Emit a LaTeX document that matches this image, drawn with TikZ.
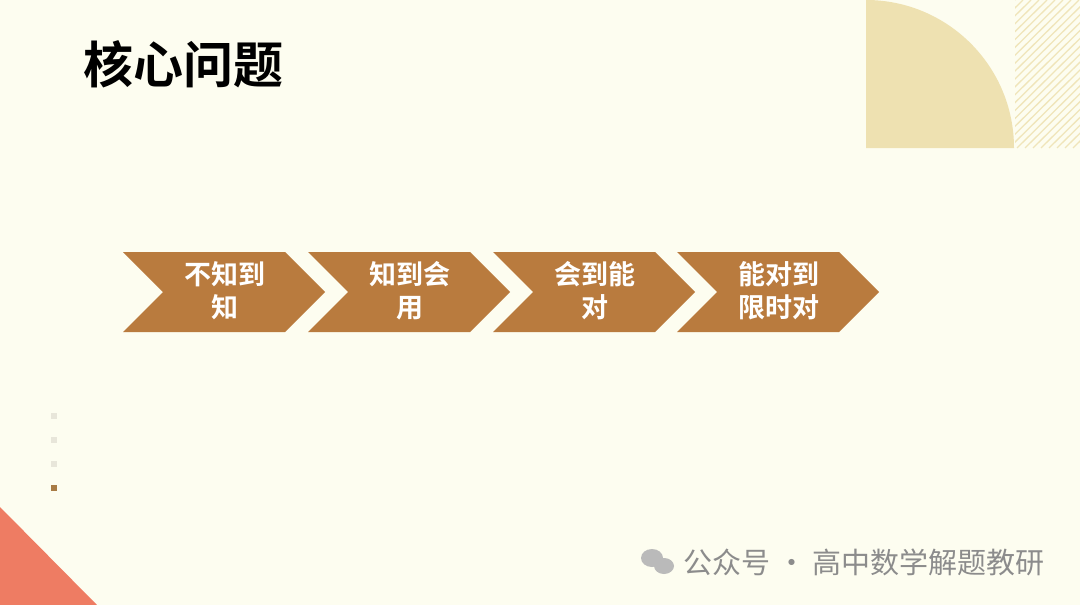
\documentclass[tikz,border=0pt]{standalone}
\usepackage{fontspec}
\newfontfamily\cjk{Noto Sans CJK SC}
\newfontfamily\cjkb{Noto Sans CJK SC Bold}
\definecolor{bg}{HTML}{FDFDF0}
\definecolor{chev}{HTML}{B97B3E}
\definecolor{qc}{HTML}{EEE1B1}
\definecolor{tri}{HTML}{EE7C63}
\definecolor{dotc}{HTML}{E8E6DA}
\definecolor{dotb}{HTML}{A87B45}
\definecolor{wm}{HTML}{8C8C8C}
\begin{document}
\begin{tikzpicture}[x=1pt,y=-1pt,
 chevtxt/.style={text=white,font=\cjkb\fontsize{27}{33}\selectfont,align=center}]
\useasboundingbox (0,0) rectangle (1080,605);
\fill[bg] (0,0) rectangle (1080,605);
% top right decoration
\fill[qc] (866,148) -- (866,0) arc[start angle=-90,end angle=0,radius=148] -- cycle;
\begin{scope}
\clip (1015,0) rectangle (1080,148);
\foreach \i in {0,8,...,240}{\draw[qc!85!bg,line width=1.3pt] (1015+\i-150,148) -- (1015+\i,0);}
\end{scope}
% title
\node[anchor=west,font=\cjkb\fontsize{50}{54}\selectfont] (title) at (80,64) {核心问题};
% chevrons
\foreach \n/\x/\t in {a/123/{不知到\\知},b/308/{知到会\\用},c/493/{会到能\\对},d/677/{能对到\\限时对}}{
 \fill[chev] (\x,252) -- (\x+162,252) -- (\x+202,292) -- (\x+162,332) -- (\x,332) -- (\x+40,292) -- cycle;
 \node[chevtxt] (\n) at (\x+102,291) {\t};
}
% dots
\foreach \y in {416,440,464}{\fill[dotc] (51,\y-3) rectangle (57,\y+3);}
\fill[dotb] (51,485) rectangle (57,491);
% triangle
\fill[tri] (0,507) -- (97,605) -- (0,605) -- cycle;
% watermark
\fill[wm!60] (652,558) ellipse (11 and 9);
\fill[wm!60] (664,566) ellipse (10 and 8);
\node[anchor=west,text=wm,font=\cjk\fontsize{29}{30}\selectfont] (wm) at (680,562) {公众号 · 高中数学解题教研};
\end{tikzpicture}
\end{document}
